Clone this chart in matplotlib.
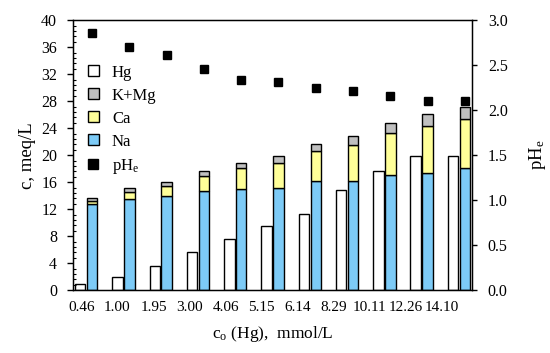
import numpy as np
import matplotlib.pyplot as plt
from matplotlib.patches import Patch
from matplotlib.lines import Line2D
from matplotlib.ticker import MultipleLocator

plt.rcParams['font.family'] = ['Liberation Serif', 'DejaVu Serif']
plt.rcParams['mathtext.fontset'] = 'custom'
plt.rcParams['mathtext.rm'] = 'Liberation Serif'
plt.rcParams['mathtext.it'] = 'Liberation Serif:italic'

# data
c0_labels = ['0.46', '1.00', '1.95', '3.00', '4.06', '5.15', '6.14',
             '8.29', '10.11', '12.26', '14.10']
hg = [0.85, 2.0, 3.6, 5.6, 7.65, 9.5, 11.35, 14.9, 17.6, 19.85, 19.85]
na = [12.75, 13.5, 13.9, 14.7, 15.05, 15.2, 16.1, 16.1, 17.05, 17.4, 18.1]
ca = [0.45, 1.1, 1.6, 2.2, 3.05, 3.6, 4.55, 5.35, 6.25, 6.95, 7.25]
kmg = [0.4, 0.5, 0.45, 0.75, 0.8, 1.1, 1.05, 1.35, 1.4, 1.75, 1.85]
ph_e = [2.86, 2.70, 2.61, 2.46, 2.34, 2.31, 2.25, 2.21, 2.16, 2.10, 2.10]

col_hg = 'white'
col_kmg = '#c0c0c0'
col_ca = '#ffff99'
col_na = '#7dcbf7'

x = np.arange(len(c0_labels))
na = np.array(na)
ca = np.array(ca)
kmg = np.array(kmg)

fig = plt.figure(figsize=(5.5, 3.53), dpi=100)
ax = fig.add_axes([0.133, 0.178, 0.725, 0.765])

w = 0.28
off = 0.16
ekw = dict(edgecolor='black', linewidth=1.0)
ax.bar(x - off, hg, w, color=col_hg, **ekw)
ax.bar(x + off, na, w, color=col_na, **ekw)
ax.bar(x + off, ca, w, bottom=na, color=col_ca, **ekw)
ax.bar(x + off, kmg, w, bottom=na + ca, color=col_kmg, **ekw)

ax.set_xlim(-0.35, len(x) - 0.65)
ax.set_ylim(0, 40)
ax.yaxis.set_major_locator(MultipleLocator(4))
ax.yaxis.set_minor_locator(MultipleLocator(0.8))
ax.tick_params(axis='y', which='major', direction='out', length=4.5, width=1, pad=7, labelsize=11.5)
ax.tick_params(axis='y', which='minor', direction='in', length=2.5, width=0.8)
# labels sit slightly left of the bar pairs, as in the original
ax.set_xticks(x * 0.968 - 0.13)
ax.set_xticklabels(c0_labels)
ax.tick_params(axis='x', length=0, pad=8, labelsize=11)
for s in ax.spines.values():
    s.set_linewidth(1.0)

ax.set_ylabel('c, meq/L', fontsize=13.5, labelpad=4)
ax.set_xlabel('c$_\\mathrm{o}$ (Hg),  mmol/L', fontsize=12.5, labelpad=7)

ax2 = ax.twinx()
ax2.plot(x + off, ph_e, linestyle='none', marker='s', markersize=6,
         color='black')
ax2.set_ylim(0, 3)
ax2.yaxis.set_major_locator(MultipleLocator(0.5))
ax2.yaxis.set_major_formatter(plt.FormatStrFormatter('%.1f'))
ax2.tick_params(axis='y', direction='out', length=3.5, width=1, pad=8, labelsize=11.5)
ax2.set_ylabel('pH$_\\mathrm{e}$', fontsize=13.5, labelpad=14)

handles = [
    Patch(facecolor=col_hg, edgecolor='black', linewidth=1.0),
    Patch(facecolor=col_kmg, edgecolor='black', linewidth=1.0),
    Patch(facecolor=col_ca, edgecolor='black', linewidth=1.0),
    Patch(facecolor=col_na, edgecolor='black', linewidth=1.0),
    Line2D([], [], linestyle='none', marker='s', markersize=7, color='black'),
]
labels = ['Hg', 'K+Mg', 'Ca', 'Na', 'pH$_\\mathrm{e}$']
ax.legend(handles, labels, loc='upper left', bbox_to_anchor=(0.02, 0.86),
          frameon=False, fontsize=12, handlelength=0.65, handleheight=0.65,
          handletextpad=0.8, labelspacing=0.42, borderaxespad=0)

fig.savefig('out.png', dpi=100)
